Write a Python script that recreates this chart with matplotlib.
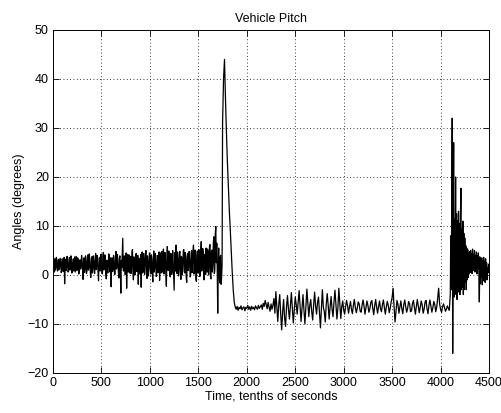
import numpy as np
import matplotlib
matplotlib.use("Agg")
import matplotlib.pyplot as plt

plt.rcParams['font.family'] = ['Liberation Sans', 'DejaVu Sans']

# Pitch angle (degrees) by flight phase.
# Cruise: every 5 tenths of a second, from t = 0
pitch_cruise = [
    2.4, 3.5, 1.2, 0.6, 3.3, 1.0, 1.6, 3.6, 2.8, 0.8, 0.9, 3.2, 3.1, 1.1, 1.8, 3.4, 2.6, 0.5, 1.1, 3.3,
    2.9, 0.7, 1.4, 3.6, -1.8, 2.0, 3.2, 0.9, 1.7, 3.8, 2.5, 0.6, 0.8, 3.1, 3.6, 1.0, 1.5, 3.9, 2.7, 0.4,
    1.0, 2.6, 3.3, 0.8, 2.0, 3.7, 0.6, 2.4, 3.8, 0.9, 1.3, 3.5, 2.9, 0.2, 0.4, 3.0, 3.1, 1.2, 1.9, 4.0,
    2.6, 1.1, -0.9, 3.4, 3.5, 0.5, 1.2, 3.9, 2.8, 0.3, 0.7, 3.6, 4.1, 1.0, 1.6, 4.3, 2.3, 0.6, -0.5, 3.2,
    3.7, 0.4, 1.4, 3.9, 2.9, 0.6, 0.3, 3.5, 4.4, 1.1, 1.8, 4.0, 2.2, 0.2, -1.2, 3.3, 3.6, 0.8, 1.0, 4.2,
    2.8, 0.5, 0.2, 3.8, 4.6, 1.0, 1.5, 4.1, 3.2, 0.3, -0.8, 3.0, 2.6, 0.4, 1.9, 4.3, 4.0, 0.9, 0.6, 3.5,
    -2.4, 2.1, 3.5, 0.7, 1.3, 4.0, 2.7, 0.2, 0.1, 3.6, 4.8, 1.2, 1.7, 4.2, 2.4, 0.5, -0.6, 3.3, 3.9, 0.8,
    -3.7, 3.0, 1.5, 4.4, 7.5, 0.9, 0.8, 3.9, 3.3, 0.1, 1.2, 4.5, -2.7, 2.2, 4.2, 0.6, 2.0, 4.1, 0.4, 3.4,
    3.8, 0.3, 1.1, 4.6, 5.2, 0.8, -1.0, 3.7, 2.9, 0.0, 0.5, 4.3, 4.4, 0.7, 1.6, 4.0, -1.9, 2.5, 3.4, 0.2,
    1.3, 4.2, -2.5, 3.1, 4.7, 0.4, 0.9, 4.4, 3.0, 0.1, 1.8, 4.6, 5.0, 0.6, -0.7, 3.9, 2.5, -0.2, 1.4, 4.5,
    4.3, 1.0, 0.2, 4.1, 3.1, 0.3, -1.4, 3.5, 4.9, 0.6, 1.7, 4.4, 2.6, -0.3, 0.0, 4.0, 3.8, 0.5, 1.2, 4.7,
    -1.1, 3.2, 4.5, 0.4, 2.2, 4.8, 0.6, 3.7, 5.3, 0.2, 1.0, 4.6, 3.4, 0.0, -2.3, 3.3, 5.8, 1.1, 0.9, 4.9,
    3.6, 0.5, -0.4, 4.4, 4.2, 0.1, 1.5, 5.0, 2.8, -0.5, -3.1, 3.0, 4.6, 0.8, 6.1, 1.4, 0.3, 4.7, 3.2, -0.2,
    1.0, 4.5, 4.8, 0.3, -0.9, 3.8, 3.5, 0.0, 2.1, 5.0, 5.2, 0.7, 0.4, 4.6, 3.9, -0.6, -1.5, 3.4, 4.4, 0.9,
    1.8, 4.8, 3.0, -0.4, -0.2, 4.3, 5.0, 0.5, 2.4, 4.9, 6.1, 0.2, 0.7, 5.1, 3.6, -0.8, -1.3, 3.9, 4.9, 0.4,
    1.2, 5.2, 3.8, -0.3, 0.0, 4.7, 6.8, 0.8, 2.0, 5.4, 4.6, -0.5, -1.0, 4.2, 3.3, 0.1, 5.5, 1.9, 0.6, 5.3,
    4.7, 0.0, 1.5, 5.8, 6.2, -0.4, -0.8, 4.9, 5.1, 0.6, 2.3, 6.7, 7.8, 0.3, 1.0, 8.4, 9.9, 2.5, 6.5, 1.2,
    -7.8, 1.8, 5.5, 0.2, -1.6, 3.6, 4.0, -1.9, -0.5, 2.0,
]

# Pitch-up event: every 10, from t = 1750
pitch_spike = [31.0, 40.0, 44.0, 36.0, 29.0, 23.0, 18.0, 13.0, 9.0, 4.5, 0.5, -3.0, -5.5]

# Nose-down level phase: every 10, from t = 1880
pitch_level = [
    -6.5, -7.0, -6.4, -7.2, -6.6, -6.9, -6.3, -7.1, -6.7, -6.5, -7.3, -6.6,
    -6.8, -6.2, -7.0, -6.5, -7.2, -6.4, -6.9, -6.6, -7.1, -6.3,
    -6.7, -7.0, -6.2, -6.8, -6.5, -6.1, -7.0, -5.8, -6.4, -5.2,
    -6.0, -6.9, -5.6, -6.6, -7.4, -5.9, -7.0, -6.2, -4.8, -7.8,
    -3.4, -6.5, -9.5, -6.0, -4.0, -8.0, -11.2, -7.5, -5.0, -8.8,
    -10.5, -6.5, -4.2, -7.0, -9.0, -6.2, -3.6, -6.8, -9.8, -7.0,
    -4.5, -6.0, -8.0, -5.5, -3.2, -6.5, -9.5, -6.8, -4.0, -7.2,
    -10.0, -6.5, -2.9, -5.8, -8.5, -6.2, -5.0, -7.5, -9.2, -6.0,
    -3.5, -6.4, -8.0, -5.6, -4.5, -7.8, -10.8, -7.0, -3.0, -6.6,
    -7.5, -9.6, -6.0, -3.8, -6.2, -9.0, -6.5, -4.4, -7.0, -8.5,
    -5.5, -3.1, -6.0, -9.0, -6.8, -2.7, -5.8, -8.9, -6.5, -5.3,
    -7.2, -8.0, -6.4, -5.2, -6.3, -7.8, -6.5, -5.4, -7.0, -7.9,
    -6.2, -5.0, -6.6, -7.7, -6.8, -5.5, -5.9, -7.4, -7.6, -6.1,
    -5.1, -6.4, -8.0, -6.7, -5.3, -6.2, -7.6, -6.9, -5.6, -5.2,
    -6.8, -8.1, -6.3, -5.0, -6.6, -7.8, -6.4, -5.3, -6.9, -7.5,
    -6.0, -5.1, -6.7, -8.0, -6.5, -5.4, -6.2, -7.7, -6.8, -5.5,
    -4.6, -2.7, -6.5, -9.6, -7.4, -5.2, -6.0, -7.8, -6.6, -5.3,
    -6.9, -7.9, -6.1, -5.1, -6.5, -7.6, -6.8, -5.4, -5.9, -7.5,
    -7.3, -5.8, -5.2, -6.7, -8.0, -6.4, -5.0, -6.3, -7.7, -6.6,
    -5.3, -6.1, -7.8, -7.0, -5.5, -5.2, -6.9, -7.9, -6.2, -5.1,
    -6.4, -7.6, -6.7, -5.4, -6.0, -7.5, -6.6, -4.8, -2.7, -5.9,
    -7.0, -7.6, -6.5, -5.9, -6.6, -7.4, -7.0, -6.3, -6.8, -7.2,
]

# Touchdown: every 5, from t = 4100
pitch_landing = [
    -4.0, 8.0, -3.0, 12.0, 32.0, -16.0, 9.0, 27.0, -4.5, 11.5,
    -2.0, 20.0, -4.0, 12.5, -5.0, 11.0, -3.5, 13.0, -2.5, 10.5,
    -4.0, 12.0, 17.7, -3.0, 9.5, -2.5, 11.0, -4.0, 8.5, -3.0,
    7.5, -1.5, 6.0, -3.0, 5.5, -1.0, 5.2, -0.5, 4.6, 0.2,
    4.8, 0.5, 5.0, 1.2, 4.4, 0.3, 5.3, 0.9, 4.2, 1.5,
    5.0, 0.6, 4.0, 1.0, 4.7, 0.2, 3.9, 1.3, 4.5, 0.8,
    -5.5, 3.7, -1.8, 3.2, -0.5, 3.5, -2.0, 2.9, -1.2, 3.6,
    -0.8, 2.8, -1.5, 3.3, 0.0, 2.5, -1.0, 1.5, 0.4, 2.2,
]

phase_start = [0, 1750, 1880, 4100]
phase_step = [5, 10, 10, 5]
x_ticks = [0, 500, 1000, 1500, 2000, 2500, 3000, 3500, 4000, 4500]
y_ticks = [-20, -10, 0, 10, 20, 30, 40, 50]

phases = [pitch_cruise, pitch_spike, pitch_level, pitch_landing]
time = np.concatenate([s0 + dt * np.arange(len(p))
                       for s0, dt, p in zip(phase_start, phase_step, phases)])
pitch = np.concatenate(phases)

fig = plt.figure(figsize=(5.01, 4.13), dpi=100)
ax = fig.add_axes([0.1058, 0.0969, 0.8703, 0.8305])

ax.plot(time, pitch, color='black', linewidth=0.9)

ax.set_xlim(0, 4500)
ax.set_ylim(-20, 50)
ax.set_xticks(x_ticks)
ax.set_yticks(y_ticks)
ax.grid(True, linestyle=(0, (1, 3)), color='black', linewidth=0.6)
ax.tick_params(direction='in', top=True, right=True, length=4, width=0.6,
               labelsize=9, colors='black', pad=3)
for s in ax.spines.values():
    s.set_linewidth(0.7)

ax.set_title('Vehicle Pitch', fontsize=9, pad=6)
ax.set_xlabel('Time, tenths of seconds', fontsize=9, labelpad=1)
ax.set_ylabel('Angles (degrees)', fontsize=9, labelpad=2)

fig.savefig('out.png', dpi=100)
